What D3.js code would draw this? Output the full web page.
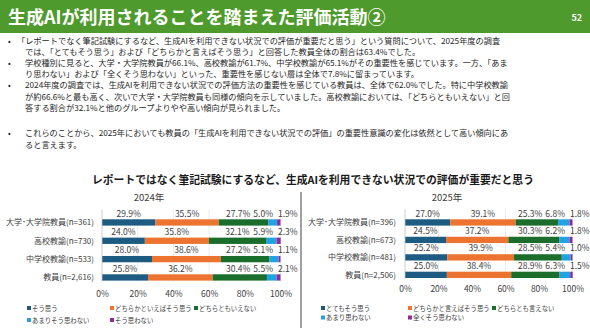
<!DOCTYPE html>
<html>
<head>
<meta charset="utf-8">
<script src="https://cdn.jsdelivr.net/npm/d3@7"></script>
<style>
  body { margin: 0; background: #fff; }
  svg { display: block; font-family: "Noto Sans CJK JP", "Noto Sans", sans-serif; }
</style>
</head>
<body>
<svg id="slide" width="590" height="331"></svg>
<script>
const pageTitle = '生成AIが利用されることを踏まえた評価活動②'
const pageNo = '52'

const bodyLines = [
  { bullet: true, text: '「レポートでなく筆記試験にするなど、生成AIを利用できない状況での評価が重要だと思う」という質問について、2025年度の調査' },
  { bullet: false, text: 'では、「とてもそう思う」および「どちらかと言えばそう思う」と回答した教員全体の割合は63.4%でした。' },
  { bullet: true, text: '学校種別に見ると、大学・大学院教員が66.1%、高校教諭が61.7%、中学校教諭が65.1%がその重要性を感じています。一方、「あま' },
  { bullet: false, text: 'り思わない」および「全くそう思わない」といった、重要性を感じない層は全体で7.8%に留まっています。' },
  { bullet: true, text: '2024年度の調査では、生成AIを利用できない状況での評価方法の重要性を感じている教員は、全体で62.0%でした。特に中学校教諭' },
  { bullet: false, text: 'が約66.6%と最も高く、次いで大学・大学院教員も同様の傾向を示していました。高校教諭においては、「どちらともいえない」と回' },
  { bullet: false, text: '答する割合が32.1%と他のグループよりやや高い傾向が見られました。' },
  { bullet: true, text: 'これらのことから、2025年においても教員の「生成AIを利用できない状況での評価」の重要性意識の変化は依然として高い傾向にあ', gap: true },
  { bullet: false, text: 'ると言えます。' }
]

const chartTitle = 'レポートではなく筆記試験にするなど、生成AIを利用できない状況での評価が重要だと思う'

const groups2024 = ['大学･大学院教員(n=361)', '高校教諭(n=730)', '中学校教諭(n=533)', '教員(n=2,616)']
const values2024 = [
  [29.9, 35.5, 27.7, 5.0, 1.9],
  [24.0, 35.8, 32.1, 5.9, 2.3],
  [28.0, 38.6, 27.2, 5.1, 1.1],
  [25.8, 36.2, 30.4, 5.5, 2.1]
]
const legend2024 = ['そう思う', 'どちらかといえばそう思う', 'どちらともいえない', 'あまりそう思わない', 'そう思わない']

const groups2025 = ['大学･大学院教員(n=396)', '高校教諭(n=673)', '中学校教諭(n=481)', '教員(n=2,506)']
const values2025 = [
  [27.0, 39.1, 25.3, 6.8, 1.8],
  [24.5, 37.2, 30.3, 6.2, 1.8],
  [25.2, 39.9, 28.5, 5.4, 1.0],
  [25.0, 38.4, 28.9, 6.3, 1.5]
]
const legend2025 = ['とてもそう思う', 'どちらかと言えばそう思う', 'どちらとも言えない', 'あまり思わない', '全くそう思わない']

const ticks = [0, 20, 40, 60, 80, 100]

const colours = ['#1d5b82', '#ec7430', '#1b6d2c', '#22a2e0', '#8e2b9e']
const headerGreen = '#4e9a2c'
const textDark = '#262626'
const labelGrey = '#404040'

const svg = d3.select('#slide')

/* HEADER */
svg.append('rect')
  .attr('x', 0).attr('y', 0)
  .attr('width', 590).attr('height', 33)
  .attr('fill', headerGreen)

svg.append('text')
  .attr('x', 8).attr('y', 24)
  .attr('font-size', 18).attr('font-weight', 'bold')
  .attr('fill', '#fff')
  .text(pageTitle)

svg.append('text')
  .attr('x', 582).attr('y', 21)
  .attr('text-anchor', 'end')
  .attr('font-size', 9).attr('font-weight', 'bold')
  .attr('fill', '#fff')
  .text(pageNo)

/* BODY TEXT */
let lineY = 43.5
bodyLines.forEach(d => {
  if (d.gap) lineY += 14.5
  if (d.bullet) {
    svg.append('text')
      .attr('x', 8).attr('y', lineY)
      .attr('font-size', 8).attr('fill', textDark)
      .text('•')
  }
  svg.append('text')
    .attr('x', d.text.startsWith('「') ? 17 : 25)
    .attr('y', lineY)
    .attr('font-size', 8.2).attr('fill', textDark)
    .text(d.text)
  lineY += 11.2
})

/* CHART TITLE */
svg.append('text')
  .attr('x', 313).attr('y', 184)
  .attr('text-anchor', 'middle')
  .attr('font-size', 10.8).attr('font-weight', 'bold')
  .attr('fill', '#1a1a1a')
  .text(chartTitle)

function drawPanel (opts) {
  const g = svg.append('g')
  const x = d3.scaleLinear().domain([0, 100]).range(opts.xRange)
  const y = d3.scalePoint().domain(opts.groups).range(opts.yRange)
  const barH = 6.3

  // year title
  g.append('text')
    .attr('x', opts.titleX).attr('y', 201)
    .attr('text-anchor', 'middle')
    .attr('font-size', 9.5).attr('fill', labelGrey)
    .text(opts.year)

  // gridlines
  g.selectAll('.grid')
    .data(ticks.slice(1))
    .join('line')
    .attr('x1', d => x(d)).attr('x2', d => x(d))
    .attr('y1', opts.yRange[0] - 10).attr('y2', opts.yRange[1] + barH + 1)
    .attr('stroke', '#e4e4e4').attr('stroke-width', 0.7)

  // bars
  opts.groups.forEach((grp, i) => {
    const vals = opts.values[i]
    const starts = d3.cumsum([0, ...vals])
    const row = g.append('g')

    row.selectAll('rect')
      .data(vals)
      .join('rect')
      .attr('x', (d, j) => x(starts[j]))
      .attr('y', y(grp))
      .attr('width', (d, j) => x(starts[j] + d) - x(starts[j]))
      .attr('height', barH)
      .attr('fill', (d, j) => colours[j])

    // labels: centred, the two small ones pushed apart at the right end
    const labels = row.selectAll('text.val')
      .data(vals)
      .join('text')
      .attr('class', 'val')
      .attr('y', y(grp) - 2.8)
      .attr('font-size', 8.5).attr('fill', labelGrey)
      .text(d => d.toFixed(1) + '%')
      .attr('text-anchor', 'middle')
      .attr('x', (d, j) => x(starts[j] + d / 2))

    const nodes = labels.nodes()
    const w = nodes.map(n => n.getComputedTextLength())
    const last = x(100) - 2.5
    d3.select(nodes[4]).attr('text-anchor', 'start').attr('x', last)
    const fourthEnd = last - 5
    d3.select(nodes[3]).attr('text-anchor', 'end').attr('x', fourthEnd)
    const thirdX = Math.min(x(starts[2] + vals[2] / 2), fourthEnd - w[3] - 3 - w[2] / 2)
    d3.select(nodes[2]).attr('x', thirdX)
  })

  // category axis line
  g.append('line')
    .attr('x1', x(0)).attr('x2', x(0))
    .attr('y1', opts.yRange[0] - 10).attr('y2', opts.yRange[1] + barH + 1)
    .attr('stroke', '#bfbfbf').attr('stroke-width', 0.8)

  // category labels
  g.selectAll('.cat')
    .data(opts.groups)
    .join('text')
    .attr('x', opts.catX)
    .attr('y', d => y(d) + barH / 2 + 3)
    .attr('text-anchor', 'end')
    .attr('font-size', 8).attr('fill', labelGrey)
    .text(d => d)

  // x axis tick labels
  const axis = g.append('g')
    .attr('transform', `translate(0,${opts.tickY})`)
    .call(d3.axisBottom(x).tickValues(ticks).tickFormat(d => d + '%').tickSize(0).tickPadding(0))
  axis.select('.domain').remove()
  axis.selectAll('text')
    .attr('font-size', 8.5).attr('fill', labelGrey)
    .attr('font-family', '"Noto Sans CJK JP", sans-serif')

  // legend
  const legend = g.selectAll('.leg')
    .data(opts.legend)
    .join('g')
    .attr('transform', (d, j) => {
      const col = j < 3 ? j : j - 3
      const rowY = j < 3 ? opts.legendY[0] : opts.legendY[1]
      return `translate(${opts.legendX[col]},${rowY})`
    })
  legend.append('rect')
    .attr('x', 0).attr('y', -2)
    .attr('width', 4).attr('height', 4)
    .attr('fill', (d, j) => colours[j])
  legend.append('text')
    .attr('x', 5).attr('y', 2.5)
    .attr('font-size', 6.4).attr('fill', labelGrey)
    .text(d => d)
}

drawPanel({
  year: '2024年',
  titleX: 149,
  groups: groups2024,
  values: values2024,
  legend: legend2024,
  xRange: [102, 280.5],
  yRange: [219.3, 274.3],
  catX: 94,
  tickY: 291,
  legendX: [27, 110, 194],
  legendY: [308, 320]
})

// divider between the two charts
svg.append('line')
  .attr('x1', 301).attr('x2', 301)
  .attr('y1', 192).attr('y2', 328)
  .attr('stroke', '#404040').attr('stroke-width', 1)

drawPanel({
  year: '2025年',
  titleX: 447,
  groups: groups2025,
  values: values2025,
  legend: legend2025,
  xRange: [405, 572.5],
  yRange: [219.3, 271.7],
  catX: 396,
  tickY: 285.5,
  legendX: [321, 408, 492],
  legendY: [308, 317.5]
})
</script>
</body>
</html>
